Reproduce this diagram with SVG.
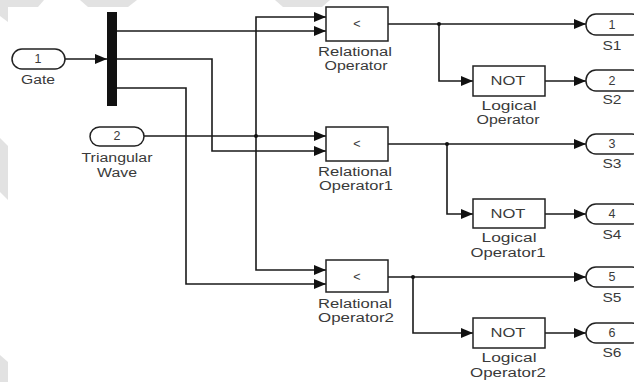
<svg xmlns="http://www.w3.org/2000/svg" width="634" height="382" viewBox="0 0 634 382">
<defs>
<marker id="arr" markerWidth="12" markerHeight="10" refX="12" refY="5" orient="auto" markerUnits="userSpaceOnUse">
<path d="M0,0 L12,5 L0,10 Z" fill="#111"/>
</marker>
<style>
.w{fill:#e2e2e2;stroke:none}
.blk{fill:#fff;stroke:#222;stroke-width:1.5}
.port{fill:#fff;stroke:#222;stroke-width:1.5}
.ln{fill:none;stroke:#1a1a1a;stroke-width:1.6}
.t{font-family:"Liberation Sans",Arial,sans-serif;font-size:12.5px;fill:#3a3a3a;text-anchor:middle}
.dot{fill:#111}
</style>
</defs>
<rect width="634" height="382" fill="#fff"/>
<g id="watermark">
<polygon class="w" points="0,0 44,0 38,7 8,7 8,22 0,16"/>
<polygon class="w" points="80,0 137,0 128,7 88,7"/>
<polygon class="w" points="275,0 330,0 322,7 283,7"/>
<polygon class="w" points="0,138 8,146 8,200 0,192"/>
<polygon class="w" points="0,355 8,362 8,382 0,382"/>
</g>
<g id="connectors">
<path class="ln" d="M65,59 H107" marker-end="url(#arr)"/>
<path class="ln" d="M117,31 H326" marker-end="url(#arr)"/>
<path class="ln" d="M144,136 H326" marker-end="url(#arr)"/>
<path class="ln" d="M256,136 V17 H326" marker-end="url(#arr)"/>
<path class="ln" d="M256,136 V270 H326" marker-end="url(#arr)"/>
<path class="ln" d="M117,59 H212 V151 H326" marker-end="url(#arr)"/>
<path class="ln" d="M117,88 H186 V284 H326" marker-end="url(#arr)"/>
<path class="ln" d="M388,24 H586" marker-end="url(#arr)"/>
<path class="ln" d="M439,24 V81 H473" marker-end="url(#arr)"/>
<path class="ln" d="M545,81 H586" marker-end="url(#arr)"/>
<path class="ln" d="M388,144 H586" marker-end="url(#arr)"/>
<path class="ln" d="M447,144 V214 H473" marker-end="url(#arr)"/>
<path class="ln" d="M545,214 H586" marker-end="url(#arr)"/>
<path class="ln" d="M388,277 H586" marker-end="url(#arr)"/>
<path class="ln" d="M413,277 V333 H473" marker-end="url(#arr)"/>
<path class="ln" d="M545,333 H586" marker-end="url(#arr)"/>
<circle class="dot" cx="256" cy="136" r="2"/>
<circle class="dot" cx="439" cy="24" r="2"/>
<circle class="dot" cx="447" cy="144" r="2"/>
<circle class="dot" cx="413" cy="277" r="2"/>
</g>
<g id="in1">
<rect class="port" x="12" y="49" width="53" height="20" rx="10"/>
<text class="t" x="38" y="63">1</text>
<text class="t" x="38" y="84" textLength="34" lengthAdjust="spacingAndGlyphs">Gate</text>
</g>
<g id="in2">
<rect class="port" x="90" y="127" width="54" height="19" rx="9.5"/>
<text class="t" x="117" y="140">2</text>
<text class="t" x="117" y="162" textLength="71" lengthAdjust="spacingAndGlyphs">Triangular</text>
<text class="t" x="117" y="177" textLength="40" lengthAdjust="spacingAndGlyphs">Wave</text>
</g>
<g id="demux">
<rect x="107" y="12" width="10" height="94" fill="#111"/>
</g>
<g id="ro">
<rect class="blk" x="326" y="7" width="62" height="34"/>
<text class="t" x="357" y="28">&lt;</text>
<text class="t" x="355" y="56" textLength="74" lengthAdjust="spacingAndGlyphs">Relational</text>
<text class="t" x="356" y="70" textLength="63" lengthAdjust="spacingAndGlyphs">Operator</text>
</g>
<g id="ro1">
<rect class="blk" x="326" y="127" width="62" height="34"/>
<text class="t" x="357" y="148">&lt;</text>
<text class="t" x="355" y="176" textLength="74" lengthAdjust="spacingAndGlyphs">Relational</text>
<text class="t" x="356" y="190" textLength="74" lengthAdjust="spacingAndGlyphs">Operator1</text>
</g>
<g id="ro2">
<rect class="blk" x="326" y="260" width="62" height="32"/>
<text class="t" x="357" y="281">&lt;</text>
<text class="t" x="355" y="308" textLength="74" lengthAdjust="spacingAndGlyphs">Relational</text>
<text class="t" x="356" y="322" textLength="76" lengthAdjust="spacingAndGlyphs">Operator2</text>
</g>
<g id="not">
<rect class="blk" x="473" y="66" width="72" height="30"/>
<text class="t" x="508" y="85" textLength="35" lengthAdjust="spacingAndGlyphs">NOT</text>
<text class="t" x="509" y="110" textLength="55" lengthAdjust="spacingAndGlyphs">Logical</text>
<text class="t" x="508" y="124" textLength="63" lengthAdjust="spacingAndGlyphs">Operator</text>
</g>
<g id="not1">
<rect class="blk" x="473" y="199" width="72" height="29"/>
<text class="t" x="508" y="218" textLength="35" lengthAdjust="spacingAndGlyphs">NOT</text>
<text class="t" x="509" y="242" textLength="55" lengthAdjust="spacingAndGlyphs">Logical</text>
<text class="t" x="508" y="257" textLength="75" lengthAdjust="spacingAndGlyphs">Operator1</text>
</g>
<g id="not2">
<rect class="blk" x="473" y="318" width="72" height="30"/>
<text class="t" x="508" y="337" textLength="35" lengthAdjust="spacingAndGlyphs">NOT</text>
<text class="t" x="509" y="362" textLength="55" lengthAdjust="spacingAndGlyphs">Logical</text>
<text class="t" x="508" y="377" textLength="76" lengthAdjust="spacingAndGlyphs">Operator2</text>
</g>
<g id="out1">
<rect class="port" x="586" y="14" width="56" height="21" rx="10"/>
<text class="t" x="612" y="29">1</text>
<text class="t" x="612" y="50" textLength="19" lengthAdjust="spacingAndGlyphs">S1</text>
</g>
<g id="out2">
<rect class="port" x="586" y="70" width="56" height="21" rx="10"/>
<text class="t" x="612" y="85">2</text>
<text class="t" x="612" y="104" textLength="19" lengthAdjust="spacingAndGlyphs">S2</text>
</g>
<g id="out3">
<rect class="port" x="586" y="134" width="56" height="20" rx="10"/>
<text class="t" x="612" y="148">3</text>
<text class="t" x="612" y="168" textLength="19" lengthAdjust="spacingAndGlyphs">S3</text>
</g>
<g id="out4">
<rect class="port" x="586" y="204" width="56" height="20" rx="10"/>
<text class="t" x="612" y="218">4</text>
<text class="t" x="612" y="239" textLength="19" lengthAdjust="spacingAndGlyphs">S4</text>
</g>
<g id="out5">
<rect class="port" x="586" y="267" width="56" height="20" rx="10"/>
<text class="t" x="612" y="281">5</text>
<text class="t" x="612" y="302" textLength="19" lengthAdjust="spacingAndGlyphs">S5</text>
</g>
<g id="out6">
<rect class="port" x="586" y="323" width="56" height="20" rx="10"/>
<text class="t" x="612" y="337">6</text>
<text class="t" x="612" y="357" textLength="19" lengthAdjust="spacingAndGlyphs">S6</text>
</g>
</svg>
